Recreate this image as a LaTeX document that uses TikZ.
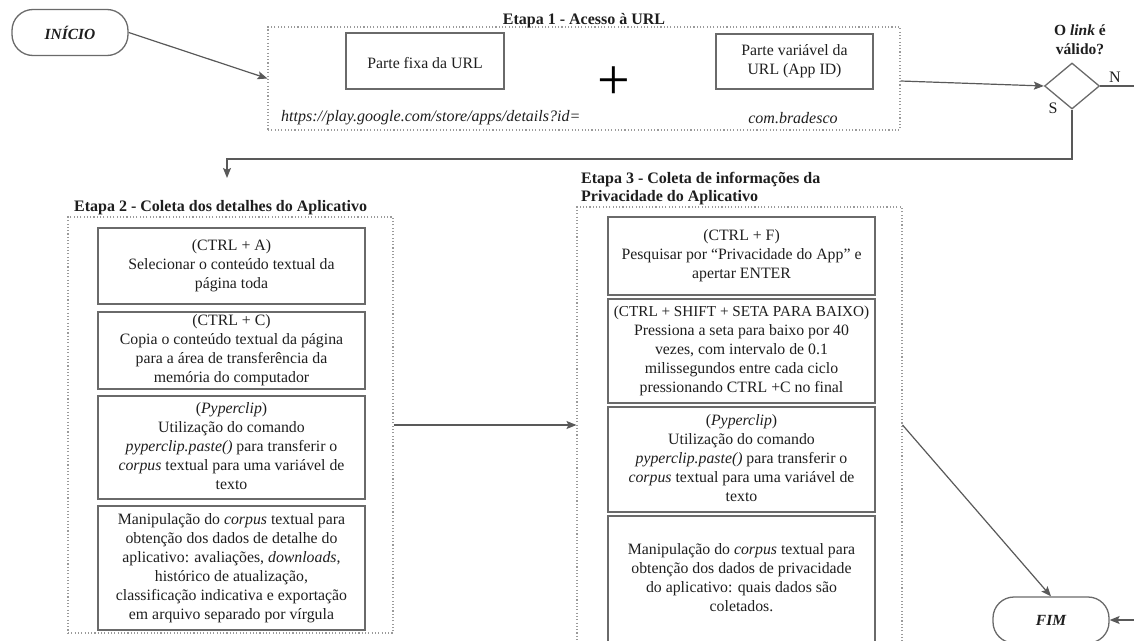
\documentclass[tikz,border=0pt]{standalone}
\usepackage{fontspec}
\setmainfont{Liberation Serif}
\usetikzlibrary{shapes.geometric,arrows.meta}
\definecolor{boxline}{HTML}{6A6A6A}
\definecolor{dotline}{HTML}{9A9A9A}
\definecolor{arrowc}{HTML}{595959}
\definecolor{txt}{HTML}{1E1E1E}
\tikzset{
  txtf/.style={font=\fontsize{15.8}{19}\selectfont, text=txt},
  stepbox/.style={draw=boxline, line width=1.3pt, rectangle, align=center, inner sep=0pt, txtf, minimum width=267pt,
    execute at begin node={\rule{0pt}{16.6pt}}, execute at end node={\rule[-2.4pt]{0pt}{2.4pt}}},
  container/.style={draw=dotline, line width=1.1pt, dash pattern=on 1.1pt off 2.2pt, rectangle, inner sep=0pt},
  terminal/.style={draw=boxline, line width=1.3pt, rectangle, rounded corners=21pt, minimum width=116pt, minimum height=46pt, inner sep=0pt, font=\fontsize{15.5}{18}\selectfont\bfseries\itshape, text=txt},
  title/.style={font=\fontsize{16}{18}\selectfont\bfseries, text=txt, inner sep=0pt},
  plain/.style={font=\fontsize{16}{19}\selectfont, text=txt, inner sep=0pt},
  conn/.style={draw=arrowc, line width=1.2pt},
  arr/.style={conn, -{Stealth[length=10pt,width=8pt,inset=2pt]}},
}
\begin{document}
\begin{tikzpicture}[x=1pt,y=-1pt]
\useasboundingbox (0,0) rectangle (1134,640);
\clip (0,0) rectangle (1134,640);

% start
\node[terminal] (inicio) at (70,32.5) {INÍCIO};

% Etapa 1
\node[container, minimum width=632pt, minimum height=103pt] (e1) at (584,78.5) {};
\node[title] (e1t) at (584,21) {Etapa 1 - Acesso à URL};
\node[stepbox, minimum width=158pt, minimum height=56pt] (fixa) at (425,61) {Parte fixa da URL};
\node[font=\fontsize{58}{58}\selectfont, text=black, inner sep=0pt] (plus) at (614,83) {+};
\node[stepbox, minimum width=157pt, minimum height=55pt] (var) at (794.5,61.5) {Parte variável da\\URL (App ID)};
\node[plain, anchor=west] (url) at (281,118) {\itshape https://play.google.com/store/apps/details?id=};
\node[plain] (brad) at (793,118) {\itshape com.bradesco};

% decision
\node[diamond, draw=boxline, line width=1.3pt, minimum width=55pt, minimum height=46pt, inner sep=0pt] (dia) at (1072,86) {};
\node[title, align=center, font=\fontsize{15.5}{18}\selectfont\bfseries] (q) at (1080,39.5) {O \textit{link} é\\[1pt]válido?};
\node[plain] (nlab) at (1115,77) {N};
\node[plain] (slab) at (1053,108) {S};
\coordinate (nend) at (1134,86);
\coordinate (s1) at (227,159);
\coordinate (s2) at (227,178);

% Etapa 2
\node[title, anchor=west] (e2t) at (74,208) {Etapa 2 - Coleta dos detalhes do Aplicativo};
\node[container, minimum width=325pt, minimum height=416pt] (e2) at (230.5,425) {};
\node[stepbox, minimum height=76pt] (b1) at (231.5,266) {(CTRL + A)\\Selecionar o conteúdo textual da\\página toda};
\node[stepbox, minimum height=77pt] (b2) at (231.5,350.5) {(CTRL + C)\\Copia o conteúdo textual da página\\para a área de transferência da\\memória do computador};
\node[stepbox, minimum height=103pt] (b3) at (231.5,447.5) {(\textit{Pyperclip})\\Utilização do comando\\\textit{pyperclip.paste()} para transferir o\\\textit{corpus} textual para uma variável de\\texto};
\node[stepbox, minimum height=124pt] (b4) at (231.5,568) {Manipulação do \textit{corpus} textual para\\obtenção dos dados de detalhe do\\aplicativo: avaliações, \textit{downloads},\\histórico de atualização,\\classificação indicativa e exportação\\em arquivo separado por vírgula};

% Etapa 3
\node[title, anchor=west, align=left] (e3t) at (581,189) {Etapa 3 - Coleta de informações da\\Privacidade do Aplicativo};
\node[container, minimum width=325pt, minimum height=436pt] (e3) at (739.5,425) {};
\node[stepbox, minimum height=78pt] (c1) at (741.5,256) {(CTRL + F)\\Pesquisar por “Privacidade do App” e\\apertar ENTER};
\node[stepbox, minimum height=104pt] (c2) at (741.5,351) {{\fontsize{15.2}{19}\selectfont(CTRL + SHIFT + SETA PARA BAIXO)}\\Pressiona a seta para baixo por 40\\vezes, com intervalo de 0.1\\milissegundos entre cada ciclo\\pressionando CTRL +C no final};
\node[stepbox, minimum height=105pt] (c3) at (741.5,459.5) {(\textit{Pyperclip})\\Utilização do comando\\\textit{pyperclip.paste()} para transferir o\\\textit{corpus} textual para uma variável de\\texto};
\node[stepbox, minimum height=126pt] (c4) at (741.5,579) {Manipulação do \textit{corpus} textual para\\obtenção dos dados de privacidade\\do aplicativo: quais dados são\\coletados.};

% end
\node[terminal] (fim) at (1051,620) {FIM};
\coordinate (fimin) at (1134,620);

% connectors
\draw[arr] (inicio.east) -- (e1.west);
\draw[arr] ([yshift=-2.5pt]e1.east) -- (dia.west);
\draw[conn] (dia.east) -- (nend);
\draw[arr] (dia.south) |- (s1) -- (s2);
\draw[arr] (e2.east) -- (e3.west);
\draw[arr] (e3.east) -- (fim.north);
\draw[arr] (fimin) -- (fim.east);
\end{tikzpicture}
\end{document}
